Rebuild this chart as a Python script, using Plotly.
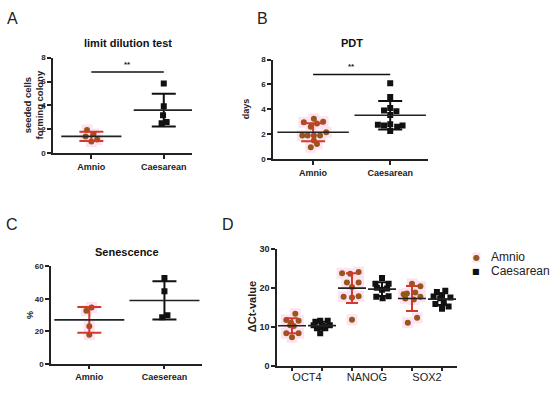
import numpy as np
import plotly.graph_objects as go

# ---------------- data ----------------
groups = ["Amnio", "Caesarean"]
groups_c = ["Amnio", "Caeserean"]
legend_labels = ["Amnio", "Caesarean"]

A_amnio = [1.94, 1.39, 1.61, 0.97, 1.14]
A_amnio_jit = [-0.06, -0.08, 0.03, 0.0, 0.08]
A_caes = [5.83, 3.92, 3.17, 2.50, 2.61]
A_caes_jit = [0.0, 0.0, -0.01, -0.03, 0.04]

B_amnio = [2.95, 3.25, 3.0, 2.85, 2.6, 1.9, 1.9, 1.9, 1.9, 2.15, 1.5, 1.2, 0.95]
B_amnio_jit = [-0.12, 0.01, 0.13, 0.05, -0.03, -0.14, -0.07, 0.01, 0.09, 0.17, 0.01, 0.05, -0.03]
B_caes = [6.1, 5.0, 3.9, 3.85, 4.1, 3.55, 2.75, 2.7, 2.8, 2.7, 2.6, 2.25]
B_caes_jit = [0.0, 0.0, -0.08, 0.08, 0.0, 0.0, -0.16, -0.08, 0.0, 0.16, 0.09, 0.0]

C_amnio = [34.6, 32.6, 23.0, 17.8]
C_amnio_jit = [0.03, -0.04, 0.0, 0.0]
C_caes = [52.8, 44.6, 28.6, 29.8]
C_caes_jit = [0.0, 0.0, -0.03, 0.04]

genes = ["OCT4", "NANOG", "SOX2"]
D_amnio = {
    "OCT4": [13.3, 11.7, 11.0, 11.5, 10.4, 10.2, 8.3, 8.3, 7.3],
    "NANOG": [23.7, 23.6, 24.0, 21.3, 21.3, 20.2, 17.7, 17.5, 17.8, 11.8],
    "SOX2": [21.0, 20.4, 18.3, 18.5, 18.75, 17.7, 17.2, 17.0, 11.0, 12.3],
}
D_amnio_jit = {
    "OCT4": [0.11, -0.19, -0.03, 0.22, -0.06, 0.06, -0.19, 0.22, 0.0],
    "NANOG": [-0.33, -0.06, 0.22, -0.17, 0.22, 0.0, -0.28, 0.0, 0.22, 0.0],
    "SOX2": [0.0, 0.28, -0.28, -0.17, 0.11, 0.28, -0.22, 0.06, -0.14, 0.17],
}
D_caes = {
    "OCT4": [11.25, 11.5, 11.5, 10.4, 10.4, 9.6, 9.6, 8.3, 10.2, 10.0],
    "NANOG": [22.5, 21.0, 21.0, 20.0, 19.8, 19.5, 17.7, 17.3, 17.8],
    "SOX2": [18.9, 19.2, 17.75, 17.5, 17.3, 16.5, 15.8, 15.2, 14.6, 18.0],
}
D_caes_jit = {
    "OCT4": [-0.22, -0.06, 0.19, -0.28, 0.26, -0.17, 0.11, -0.06, 0.0, 0.1],
    "NANOG": [0.0, -0.22, 0.22, -0.17, 0.17, 0.0, -0.19, 0.02, 0.22],
    "SOX2": [-0.17, 0.11, -0.28, 0.28, -0.06, 0.06, -0.22, 0.22, 0.0, 0.0],
}

sig_A = 6.8
sig_B = 6.8

# ---------------- style ----------------
W, H = 550, 397
FONT = "Arial, Liberation Sans, sans-serif"
BROWN = "#96561c"
RED = "#d43a2c"
PINK = "#fde3f1"
BLACK = "#111111"

fig = go.Figure()


def px_x(p):
    return p / W


def px_y(p):
    return 1 - p / H


def add_group(xa, ya, center, vals, jit, kind, mean_w, cap_w, halo, msize=6):
    vals = np.array(vals, dtype=float)
    xs = center + np.array(jit, dtype=float)
    m = vals.mean()
    s = vals.std(ddof=1)
    is_amnio = kind == "amnio"
    if is_amnio:
        fig.add_trace(go.Scatter(
            x=xs, y=vals, xaxis=xa, yaxis=ya, mode="markers", hoverinfo="skip",
            marker=dict(symbol="square", size=halo, color=PINK, line=dict(width=0)),
            showlegend=False))
    fig.add_trace(go.Scatter(
        x=xs, y=vals, xaxis=xa, yaxis=ya, mode="markers",
        marker=dict(symbol="circle" if is_amnio else "square", size=msize,
                    color=BROWN if is_amnio else BLACK, line=dict(width=0)),
        showlegend=False))
    ecol = RED if is_amnio else BLACK
    fig.add_trace(go.Scatter(
        x=[center], y=[m], xaxis=xa, yaxis=ya, mode="markers", hoverinfo="skip",
        marker=dict(size=1, color="rgba(0,0,0,0)"),
        error_y=dict(type="data", array=[s], visible=True, color=ecol, thickness=2, width=cap_w),
        showlegend=False))
    fig.add_trace(go.Scatter(
        x=[center], y=[m], xaxis=xa, yaxis=ya, mode="markers", hoverinfo="skip",
        marker=dict(symbol="line-ew", size=mean_w, color="#222222",
                    line=dict(color="#222222", width=1.6)),
        showlegend=False))


# Panel A
add_group("x", "y", 1, A_amnio, A_amnio_jit, "amnio", 43, 12, 11)
add_group("x", "y", 2, A_caes, A_caes_jit, "caes", 43, 12, 11)
# Panel B
add_group("x2", "y2", 1, B_amnio, B_amnio_jit, "amnio", 51, 12, 11)
add_group("x2", "y2", 2, B_caes, B_caes_jit, "caes", 51, 12, 11)
# Panel C
add_group("x3", "y3", 1, C_amnio, C_amnio_jit, "amnio", 50, 12, 11)
add_group("x3", "y3", 2, C_caes, C_caes_jit, "caes", 50, 12, 11)
# Panel D
for i, g in enumerate(genes):
    add_group("x4", "y4", 2 * i + 1, D_amnio[g], D_amnio_jit[g], "amnio", 20, 6, 11)
    add_group("x4", "y4", 2 * i + 2, D_caes[g], D_caes_jit[g], "caes", 20, 6, 11)

# significance bars
for xa, ya, yv in [("x", "y", sig_A), ("x2", "y2", sig_B)]:
    fig.add_trace(go.Scatter(x=[1, 2], y=[yv, yv], xaxis=xa, yaxis=ya, mode="lines",
                             line=dict(color=BLACK, width=1.6), hoverinfo="skip",
                             showlegend=False))

tickfont_b = dict(family=FONT, size=8, color="#222222", weight="bold")
ax_common = dict(showline=True, linecolor="#222222", linewidth=1.5, ticks="outside",
                 ticklen=4, tickwidth=1.5, tickcolor="#222222", showgrid=False,
                 zeroline=False, fixedrange=True)

layout = dict(
    width=W, height=H, margin=dict(l=0, r=0, t=0, b=0),
    paper_bgcolor="white", plot_bgcolor="white",
    font=dict(family=FONT, color="#222222"),
    xaxis=dict(domain=[px_x(53), px_x(192)], anchor="y", range=[0.47, 2.39],
               tickvals=[1, 2], ticktext=groups, tickfont=dict(tickfont_b, size=9), **ax_common),
    yaxis=dict(domain=[px_y(152), px_y(54)], anchor="x", range=[0, 8], dtick=2,
               tickfont=tickfont_b, **ax_common),
    xaxis2=dict(domain=[px_x(273), px_x(428)], anchor="y2", range=[0.48, 2.49],
                tickvals=[1, 2], ticktext=groups, tickfont=dict(tickfont_b, size=9), **ax_common),
    yaxis2=dict(domain=[px_y(158), px_y(56)], anchor="x2", range=[0, 8], dtick=2,
                tickfont=tickfont_b, **ax_common),
    xaxis3=dict(domain=[px_x(51), px_x(202)], anchor="y3", range=[0.49, 2.5],
                tickvals=[1, 2], ticktext=groups_c, tickfont=dict(tickfont_b, size=9), **ax_common),
    yaxis3=dict(domain=[px_y(368), px_y(268)], anchor="x3", range=[0, 60], dtick=20,
                tickfont=tickfont_b, **ax_common),
    xaxis4=dict(domain=[px_x(277), px_x(457)], anchor="y4", range=[0.5, 6.5],
                tickvals=[1.5, 3.5, 5.5], ticktext=genes,
                tickfont=dict(family=FONT, size=11, color="#222222"),
                minor=dict(ticks="outside", tick0=1, dtick=1, ticklen=4, tickwidth=1.5,
                           tickcolor="#222222", showgrid=False),
                **{**ax_common, "ticklen": 0}),
    yaxis4=dict(domain=[px_y(370), px_y(250)], anchor="x4", range=[0, 30], dtick=10,
                tickfont=dict(tickfont_b, size=9), **ax_common),
    showlegend=False,
)
fig.update_layout(**layout)

ann = []
# panel letters
for t, x, y in [("A", 12, 14), ("B", 262, 14), ("C", 12, 225), ("D", 228, 225)]:
    ann.append(dict(text=t, x=px_x(x), y=px_y(y), xref="paper", yref="paper",
                    xanchor="center", yanchor="middle",
                    showarrow=False, font=dict(family=FONT, size=16, color="#222222")))
# titles
for t, x, y in [("limit dilution test", 128, 39), ("PDT", 352, 39), ("Senescence", 127, 253)]:
    ann.append(dict(text=t, x=px_x(x), y=px_y(y), xref="paper", yref="paper",
                    xanchor="center", yanchor="middle",
                    showarrow=False, font=dict(family=FONT, size=11, color="#111111", weight="bold")))
# y titles
for t, x, y, sz in [("seeded cells<br>forming colony", 33, 103, 9.5), ("days", 246, 107, 9),
                    ("%", 30, 318, 9), ("ΔCt-value", 252, 310, 11)]:
    ann.append(dict(text=t, x=px_x(x), y=px_y(y), xref="paper", yref="paper",
                    xanchor="center", yanchor="middle",
                    showarrow=False, textangle=-90,
                    font=dict(family=FONT, size=sz, color="#222222", weight="bold")))
# significance stars
for xr, yr, yv in [("x", "y", sig_A), ("x2", "y2", sig_B)]:
    ann.append(dict(text="**", x=1.5, y=yv, xref=xr, yref=yr, yanchor="bottom",
                    xanchor="center", showarrow=False, yshift=1,
                    font=dict(family=FONT, size=8, color="#222222", weight="bold")))
# legend (symbols + labels)
leg_syms = [(f"<span style='color:{BROWN}'>●</span>", 259), ("<span style='color:#111111'>■</span>", 273)]
for (sym, y), lab in zip(leg_syms, legend_labels):
    ann.append(dict(text=sym, x=px_x(476), y=px_y(y), xref="paper", yref="paper",
                    xanchor="center", yanchor="middle", showarrow=False,
                    bgcolor=PINK if lab == "Amnio" else None, borderpad=0,
                    font=dict(family="DejaVu Sans", size=8)))
    ann.append(dict(text=lab, x=px_x(489), y=px_y(y), xref="paper", yref="paper",
                    xanchor="left", yanchor="middle", showarrow=False,
                    font=dict(family=FONT, size=12, color="#222222")))
fig.update_layout(annotations=ann)

fig.write_html("out.html", config={"displayModeBar": False},
               post_script="document.body.style.margin='0';document.body.style.overflow='hidden';")
